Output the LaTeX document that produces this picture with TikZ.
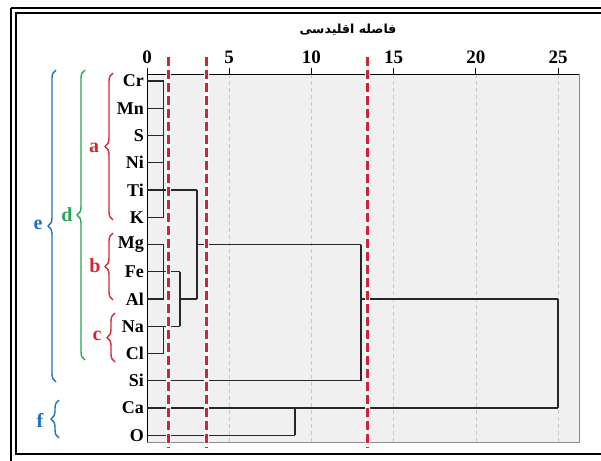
\documentclass[tikz,border=0pt]{standalone}
\usepackage{fontspec}
\setmainfont{Liberation Serif}
\newfontfamily\arabicfont[Script=Arabic]{DejaVu Sans}
\TeXXeTstate=1
\usetikzlibrary{decorations.pathreplacing}
\definecolor{bred}{RGB}{214,38,48}
\definecolor{bgreen}{RGB}{40,168,84}
\definecolor{bblue}{RGB}{30,112,190}
\definecolor{cutred}{RGB}{206,36,54}
\definecolor{plotbg}{RGB}{240,240,240}
\begin{document}
\begin{tikzpicture}[x=1pt,y=-1pt,
  leaf/.style={anchor=east,inner sep=0pt,font=\fontsize{18}{18}\selectfont\bfseries},
  ticklab/.style={anchor=south,inner sep=0pt,font=\fontsize{19}{19}\selectfont\bfseries},
  link/.style={draw=black!85,line width=1.2pt},
  grid/.style={draw=black!22,line width=0.6pt,dash pattern=on 4pt off 3pt},
  cut/.style={draw=cutred,line width=3pt,dash pattern=on 9pt off 4pt},
  cutbg/.style={draw=white,line width=5pt},
  brlab/.style={inner sep=0pt,font=\fontsize{20}{20}\selectfont\bfseries},
  grp/.style={decorate,decoration={brace,amplitude=8pt},line width=1.4pt}]
\useasboundingbox (0,0) rectangle (601,460);
% frame
\draw[line width=1.6pt] (11,8) -- (620,8);
\draw[line width=1.6pt] (11,8) -- (11,470);
\draw[line width=1.2pt] (16,13) rectangle (620,454);
% plot area
\draw[fill=plotbg,draw=black!45,line width=0.8pt] (147,74) rectangle (579,442);
\foreach \v in {5,10,15,20,25}{
  \draw[grid] ({147+16.44*\v},74) -- ({147+16.44*\v},442);
}
\draw[black,line width=1pt] (147,442) -- (147,74) -- (579,74);
\foreach \v in {0,5,10,15,20,25}{
  \draw[black,line width=0.8pt] ({147+16.44*\v},74) -- ({147+16.44*\v},68);
  \node[ticklab] (t\v) at ({147+16.44*\v},64) {\v};
}
\node[inner sep=0pt,font=\arabicfont\fontsize{12.5}{12.5}\selectfont\bfseries] (title) at (348,30) {\beginR فاصله اقلیدسی\endR};
% leaves
\foreach \n/\y in {Cr/81,Mn/108.2,S/135.5,Ni/162.7,Ti/190,K/217.2,Mg/244.5,Fe/271.7,Al/299,Na/326.2,Cl/353.5,Si/380.7,Ca/408,O/435.2}{
  \node[leaf] (\n) at (144,\y) {\n};
  \coordinate (l\n) at (147,\y);
}
% joint coordinates
\coordinate (ja1) at (163.5,81);   \coordinate (ja2) at (163.5,217.2);
\coordinate (jb1) at (163.5,244.5); \coordinate (jb2) at (163.5,299);
\coordinate (jc1) at (163.5,326.2); \coordinate (jc2) at (163.5,353.5);
\coordinate (jbc1) at (180,271.7);  \coordinate (jbc2) at (180,326.2);
\coordinate (jd1) at (197,190);     \coordinate (jd2) at (197,299);
\coordinate (je1) at (361,244.5);   \coordinate (je2) at (361,380.7);
\coordinate (jf1) at (295,408);     \coordinate (jf2) at (295,435.2);
\coordinate (jr1) at (558,299);     \coordinate (jr2) at (558,408);
% cluster a
\foreach \n in {Cr,Mn,S,Ni,K}{ \draw[link] (l\n) -- (163.5,0 |- l\n); }
\draw[link] (ja1) -- (ja2);
% cluster b
\foreach \n in {Mg,Fe,Al}{ \draw[link] (l\n) -- (163.5,0 |- l\n); }
\draw[link] (jb1) -- (jb2);
% cluster c
\foreach \n in {Na,Cl}{ \draw[link] (l\n) -- (163.5,0 |- l\n); }
\draw[link] (jc1) -- (jc2);
% b + c
\draw[link] (lFe) -- (jbc1);
\draw[link] (lNa) -- (jbc2);
\draw[link] (jbc1) -- (jbc2);
% a + bc
\draw[link] (lTi) -- (jd1);
\draw[link] (jbc1 |- lAl) -- (jd2);
\draw[link] (jd1) -- (jd2);
% + Si
\draw[link] (jd1 |- lMg) -- (je1);
\draw[link] (lSi) -- (je2);
\draw[link] (je1) -- (je2);
% Ca + O
\draw[link] (lCa) -- (jf1);
\draw[link] (lO) -- (jf2);
\draw[link] (jf1) -- (jf2);
% root
\draw[link] (je1 |- jr1) -- (jr1);
\draw[link] (jf1) -- (jr2);
\draw[link] (jr1) -- (jr2);
% cut lines
\foreach \x in {168,206,367}{
  \coordinate (ct\x) at (\x,57);
  \coordinate (cb\x) at (\x,448);
  \draw[cutbg] (ct\x) -- (cb\x);
  \draw[cut] (ct\x) -- (cb\x);
}
% braces
\draw[grp,bred] (113,220) -- (113,73);
\node[brlab,text=bred] (la) at (94,148) {a};
\draw[grp,bred] (113,300) -- (113,233);
\node[brlab,text=bred] (lb) at (95,266) {b};
\draw[grp,bred] (115,362) -- (115,313);
\node[brlab,text=bred] (lc) at (97,336) {c};
\draw[grp,bgreen] (85,360) -- (85,70);
\node[brlab,text=bgreen] (ld) at (67,215) {d};
\draw[grp,bblue] (56,382) -- (56,70);
\node[brlab,text=bblue] (le) at (38,225) {e};
\draw[grp,bblue] (59,438) -- (59,400);
\node[brlab,text=bblue] (lf) at (40,420) {f};
\end{tikzpicture}
\end{document}
